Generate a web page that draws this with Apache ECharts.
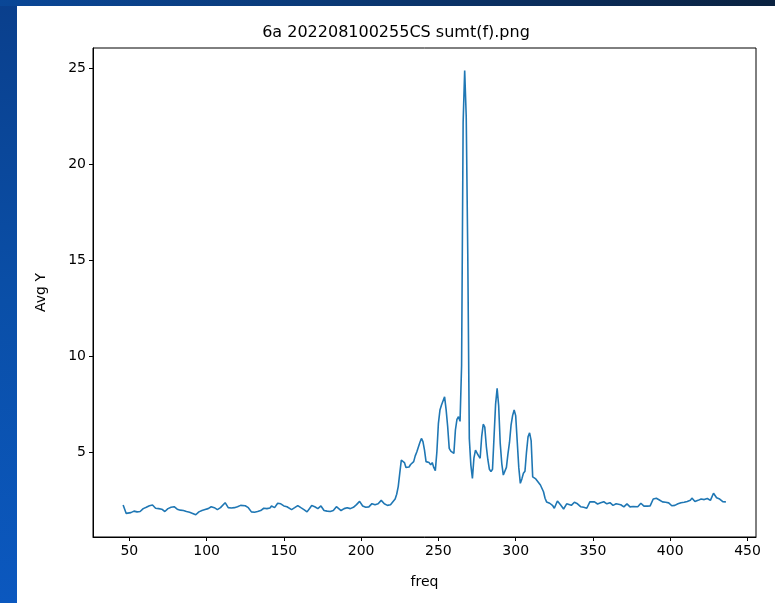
<!DOCTYPE html>
<html>
<head>
<meta charset="utf-8">
<script src="https://cdn.jsdelivr.net/npm/echarts@6/dist/echarts.min.js"></script>
<style>
  html, body { margin: 0; padding: 0; width: 775px; height: 603px; overflow: hidden; }
  body { background: linear-gradient(180deg, #0a3f8c 0%, #0a4fa8 50%, #0b58bf 100%); position: relative; }
  #band { position: absolute; left: 0; top: 0; width: 775px; height: 6px;
          background: linear-gradient(90deg, #0a4797 0%, #0b3a78 40%, #0b2b57 75%, #0a2240 100%); }
  #chart { position: absolute; left: 17px; top: 6px; width: 758px; height: 597px; background: #ffffff; }
</style>
</head>
<body>
<div id="band"></div>
<div id="chart"></div>
<script>
const titleText = '6a 202208100255CS sumt(f).png';
const xName = 'freq';
const yName = 'Avg Y';
const xTicks = [50, 100, 150, 200, 250, 300, 350, 400, 450];
const yTicks = [5, 10, 15, 20, 25];

const freq = [
  46, 48, 49, 51, 53, 55, 57, 59, 61, 63, 65, 67, 69, 71, 73, 75, 77, 79, 81, 83,
  85, 87, 89, 91, 93, 95, 97, 99, 101, 103, 105, 107, 109, 110, 112, 114, 116, 118, 120, 122,
  123, 125, 127, 129, 131, 133, 135, 137, 139, 141, 142, 144, 146, 148, 150, 152, 153, 155, 157, 159,
  161, 163, 165, 167, 168, 170, 172, 174, 176, 178, 180, 182, 184, 185, 187, 189, 191, 193, 195, 197,
  199, 201, 203, 205, 207, 209, 211, 213, 215, 217, 219, 220, 222, 223, 224, 225, 226, 227, 228, 229,
  231, 232, 233, 234, 235, 236, 237, 238, 239, 240, 241, 242, 243, 244, 245, 246, 247, 248, 249, 250,
  251, 252, 253, 254, 255, 256, 257, 258, 259, 260, 261, 262, 263, 264, 265, 266, 267, 268, 269, 270,
  271, 272, 273, 274, 275, 276, 277, 278, 279, 280, 281, 282, 283, 284, 285, 286, 287, 288, 289, 290,
  291, 292, 293, 294, 295, 296, 297, 298, 299, 300, 301, 302, 303, 304, 305, 306, 307, 308, 309, 310,
  311, 313, 314, 316, 318, 319, 320, 322, 324, 325, 327, 329, 331, 333, 334, 336, 338, 340, 342, 344,
  346, 348, 349, 351, 353, 355, 357, 359, 361, 363, 365, 366, 368, 370, 372, 374, 376, 377, 379, 381,
  383, 385, 387, 389, 391, 393, 395, 397, 399, 401, 403, 405, 407, 409, 411, 413, 414, 416, 418, 420,
  422, 424, 426, 428, 430, 432, 434, 436
];
const avgY = [
  2.24, 1.80, 1.76, 1.84, 1.92, 1.88, 1.90, 2.05, 2.12, 2.20, 2.24, 2.07, 2.05, 2.02, 1.90, 2.05, 2.12, 2.15, 2.02, 1.97,
  1.95, 1.90, 1.86, 1.80, 1.73, 1.88, 1.95, 2.00, 2.05, 2.15, 2.10, 2.00, 2.10, 2.15, 2.36, 2.10, 2.08, 2.10, 2.15, 2.22,
  2.28, 2.20, 2.10, 1.88, 1.86, 1.90, 1.95, 2.07, 2.05, 2.08, 2.19, 2.10, 2.33, 2.30, 2.19, 2.15, 2.20, 2.00, 2.10, 2.21,
  2.10, 2.00, 1.88, 2.10, 2.21, 2.15, 2.05, 2.19, 1.95, 1.92, 1.90, 1.95, 2.15, 2.24, 1.95, 2.05, 2.10, 2.05, 2.12, 2.26,
  2.43, 2.19, 2.12, 2.14, 2.31, 2.25, 2.30, 2.48, 2.30, 2.22, 2.25, 2.15, 2.55, 2.80, 3.20, 3.90, 4.58, 4.67, 4.45, 4.20,
  4.22, 4.35, 4.41, 4.50, 4.80, 5.00, 5.05, 5.50, 5.71, 5.54, 5.10, 4.50, 4.55, 4.45, 4.33, 4.45, 4.20, 4.03, 5.00, 6.50,
  7.19, 7.45, 7.54, 7.88, 7.20, 6.32, 5.19, 5.05, 4.95, 4.93, 6.15, 6.70, 6.84, 6.60, 9.50, 22.2, 24.9, 22.5, 15.3, 5.70,
  4.32, 3.63, 4.70, 5.10, 4.95, 4.80, 4.68, 5.80, 6.45, 6.30, 5.30, 4.60, 4.10, 3.98, 4.10, 5.80, 7.50, 8.32, 7.40, 5.45,
  4.40, 3.80, 3.90, 4.20, 4.90, 5.50, 6.40, 6.90, 7.19, 6.90, 5.55, 4.20, 3.37, 3.60, 3.89, 4.00, 5.00, 5.80, 6.00, 5.60,
  3.71, 3.60, 3.54, 3.28, 2.93, 2.59, 2.40, 2.33, 2.20, 2.07, 2.45, 2.25, 2.03, 2.30, 2.38, 2.22, 2.38, 2.30, 2.15, 2.12,
  2.07, 2.40, 2.50, 2.40, 2.29, 2.35, 2.41, 2.30, 2.36, 2.22, 2.30, 2.36, 2.25, 2.14, 2.30, 2.14, 2.16, 2.15, 2.15, 2.33,
  2.18, 2.18, 2.19, 2.55, 2.59, 2.50, 2.40, 2.38, 2.35, 2.20, 2.22, 2.30, 2.36, 2.38, 2.42, 2.48, 2.60, 2.42, 2.48, 2.55,
  2.52, 2.58, 2.48, 2.85, 2.62, 2.55, 2.41, 2.40
];

const chart = echarts.init(document.getElementById('chart'), null, { renderer: 'canvas' });
const font = 'DejaVu Sans';
const textColor = '#000000';
chart.setOption({
  animation: false,
  backgroundColor: '#ffffff',
  title: {
    text: titleText, left: 'center', top: 14,
    textStyle: { fontFamily: font, fontSize: 16, fontWeight: 'normal', color: textColor }
  },
  grid: { left: 76, right: 19, top: 42, bottom: 66, show: true, borderColor: '#000', borderWidth: 1, backgroundColor: 'transparent' },
  xAxis: {
    type: 'value', min: 26.5, max: 455.5,
    name: xName, nameLocation: 'middle', nameGap: 38,
    nameTextStyle: { fontFamily: font, fontSize: 14, color: textColor },
    axisLine: { show: true, lineStyle: { color: '#000', width: 1 } },
    axisTick: { show: true, length: 4, inside: false, customValues: xTicks, lineStyle: { color: '#000' } },
    axisLabel: { customValues: xTicks, margin: 7, fontFamily: font, fontSize: 14, color: textColor },
    splitLine: { show: false }
  },
  yAxis: {
    type: 'value', min: 0.57, max: 26.07,
    name: yName, nameLocation: 'middle', nameGap: 45, nameRotate: 90,
    nameTextStyle: { fontFamily: font, fontSize: 14, color: textColor },
    axisLine: { show: true, lineStyle: { color: '#000', width: 1 } },
    axisTick: { show: true, length: 4, inside: false, customValues: yTicks, lineStyle: { color: '#000' } },
    axisLabel: { customValues: yTicks, margin: 7, fontFamily: font, fontSize: 14, color: textColor },
    splitLine: { show: false }
  },
  series: [{
    type: 'line',
    data: freq.map((f, i) => [f, avgY[i]]),
    showSymbol: false,
    lineStyle: { color: '#1f77b4', width: 1.6 },
    itemStyle: { color: '#1f77b4' }
  }]
});
</script>
</body>
</html>
